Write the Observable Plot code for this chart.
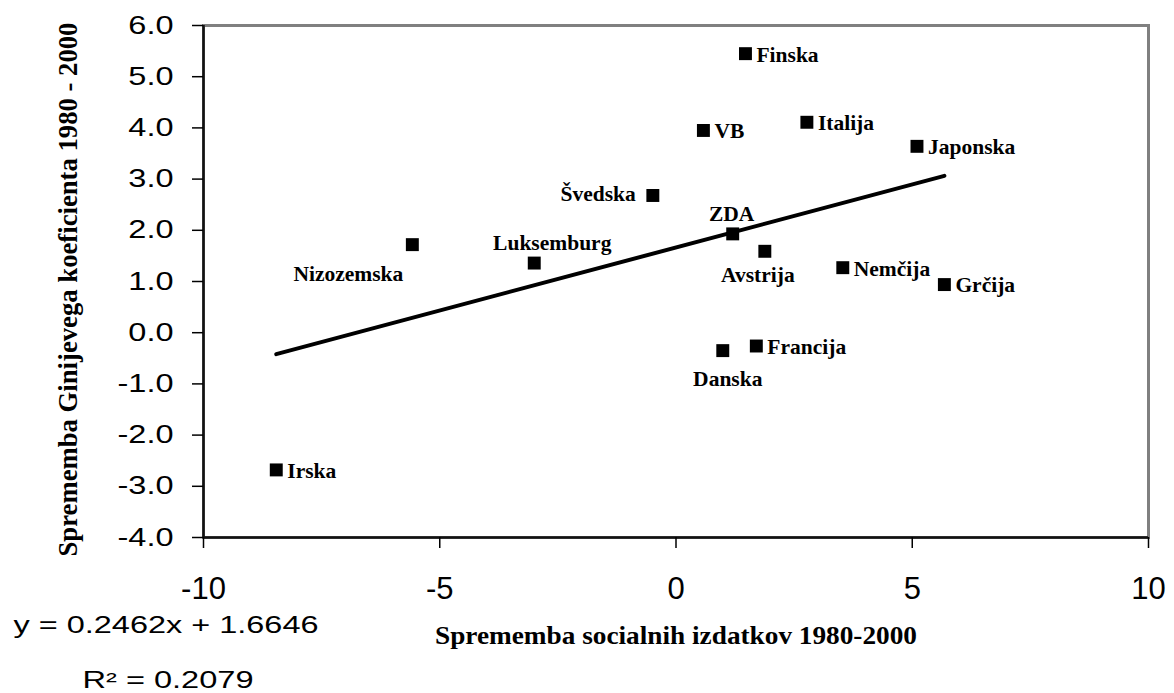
<!DOCTYPE html>
<html>
<head>
<meta charset="utf-8">
<script src="https://cdn.jsdelivr.net/npm/d3@7"></script>
<script src="https://cdn.jsdelivr.net/npm/@observablehq/plot@0.6"></script>
<style>
  html, body { margin: 0; padding: 0; background: #fff; }
  #chart svg { display: block; }
</style>
</head>
<body>
<div id="chart"></div>
<script>
// ---- data ----
const countries = ["Finska","VB","Italija","Japonska","Švedska","ZDA","Avstrija","Luksemburg","Nizozemska","Nemčija","Grčija","Francija","Danska","Irska"];
const socialChange = [1.47, 0.58, 2.77, 5.10, -0.49, 1.20, 1.88, -3.00, -5.58, 3.53, 5.68, 1.70, 0.99, -8.46];
const giniChange   = [5.45, 3.95, 4.11, 3.64, 2.68, 1.93, 1.59, 1.36, 1.72, 1.27, 0.94, -0.26, -0.35, -2.68];
const xTicks = [-10, -5, 0, 5, 10];
const yTicks = [-4, -3, -2, -1, 0, 1, 2, 3, 4, 5, 6];
const slope = 0.2462;
const intercept = 1.6646;
const rSquared = 0.2079;
const xLabel = "Sprememba socialnih izdatkov 1980-2000";
const yLabel = "Sprememba Ginijevega koeficienta 1980 - 2000";

// ---- layout (label placement per country) ----
const labelSide = {
  Finska: "right", VB: "right", Italija: "right", Japonska: "right", Nemčija: "right",
  Grčija: "right", Francija: "right", Irska: "right",
  Švedska: "left", ZDA: "above", Luksemburg: "aboveRight",
  Avstrija: "below", Danska: "belowRight", Nizozemska: "belowLeft"
};
const sideStyle = {
  right:      {textAnchor: "start",  dx: 11,  dy: 1},
  left:       {textAnchor: "end",    dx: -17, dy: -1},
  above:      {textAnchor: "middle", dx: -1,  dy: -20},
  aboveRight: {textAnchor: "middle", dx: 18,  dy: -20},
  below:      {textAnchor: "middle", dx: -7,  dy: 24},
  belowRight: {textAnchor: "middle", dx: 5,   dy: 28},
  belowLeft:  {textAnchor: "end",    dx: -9,  dy: 29}
};

const points = countries.map((c, i) => ({country: c, x: socialChange[i], y: giniChange[i]}));
const xMin = d3.min(socialChange), xMax = d3.max(socialChange);
const fitLine = [xMin, xMax].map(x => ({x, y: slope * x + intercept}));
const eqText = `y = ${slope}x + ${intercept}`;
const r2Text = `R² = ${rSquared}`;

const serif = "'Liberation Serif', 'Times New Roman', serif";
const sans = "'Liberation Sans', Arial, sans-serif";

const labelMarks = Object.entries(sideStyle).map(([side, st]) =>
  Plot.text(points.filter(p => labelSide[p.country] === side), {
    x: "x", y: "y", text: "country",
    textAnchor: st.textAnchor, dx: st.dx, dy: st.dy,
    fontFamily: serif, fontWeight: "bold", fontSize: 21.5, fill: "#000"
  })
);

const chart = Plot.plot({
  width: 1174,
  height: 693,
  marginLeft: 203,
  marginRight: 26,
  marginTop: 25,
  marginBottom: 156,
  style: {background: "#fff", color: "#000"},
  x: {domain: [-10, 10]},
  y: {domain: [-4, 6]},
  marks: [
    Plot.frame({stroke: "#808080", strokeWidth: 3}),
    Plot.ruleY([-4], {stroke: "#111", strokeWidth: 2.5}),
    Plot.ruleX([-10], {stroke: "#111", strokeWidth: 2.5}),
    Plot.axisY({
      ticks: yTicks, tickFormat: d => d.toFixed(1), tickSize: 11, tickPadding: 19,
      fontSize: 25, fontFamily: sans, label: null, strokeWidth: 1.5
    }),
    Plot.axisX({
      ticks: xTicks, tickFormat: d => String(d), tickSize: 11, tickPadding: 28,
      fontSize: 31, fontFamily: sans, label: null, strokeWidth: 1.5
    }),
    Plot.line(fitLine, {x: "x", y: "y", stroke: "#000", strokeWidth: 4}),
    Plot.dot(points, {x: "x", y: "y", symbol: "square", r: 7.3, fill: "#000", stroke: "none"}),
    ...labelMarks,
    Plot.text([yLabel], {
      text: d => d, frameAnchor: "left", textAnchor: "middle", lineAnchor: "middle",
      dx: -135, dy: 8, rotate: -90,
      fontFamily: serif, fontWeight: "bold", fontSize: 26.7, fill: "#000"
    }),
    Plot.text([xLabel], {
      text: d => d, frameAnchor: "bottom", textAnchor: "middle", lineAnchor: "middle",
      dx: 0, dy: 98,
      fontFamily: serif, fontWeight: "bold", fontSize: 26, fill: "#000"
    }),
    Plot.text([eqText], {
      text: d => d, frameAnchor: "bottom-left", textAnchor: "start", dx: -190, dy: 95,
      fontFamily: sans, fontSize: 23, fill: "#000"
    }),
    Plot.text([r2Text], {
      text: d => d, frameAnchor: "bottom-left", textAnchor: "start", dx: -121, dy: 150,
      fontFamily: sans, fontSize: 23, fill: "#000"
    })
  ]
});

document.getElementById("chart").appendChild(chart);

// horizontal stretch to match the reference's wide glyphs
chart.querySelectorAll('g[aria-label="y-axis tick label"] text').forEach(t => {
  const w = t.getComputedTextLength();
  t.setAttribute("textLength", (w * 1.3).toFixed(1));
  t.setAttribute("lengthAdjust", "spacingAndGlyphs");
});
const stretch = {[eqText]: 305, [r2Text]: 171, [xLabel]: 482};
chart.querySelectorAll("text").forEach(t => {
  const s = stretch[t.textContent];
  if (s) {
    t.setAttribute("textLength", s);
    t.setAttribute("lengthAdjust", "spacingAndGlyphs");
  }
});
</script>
</body>
</html>
